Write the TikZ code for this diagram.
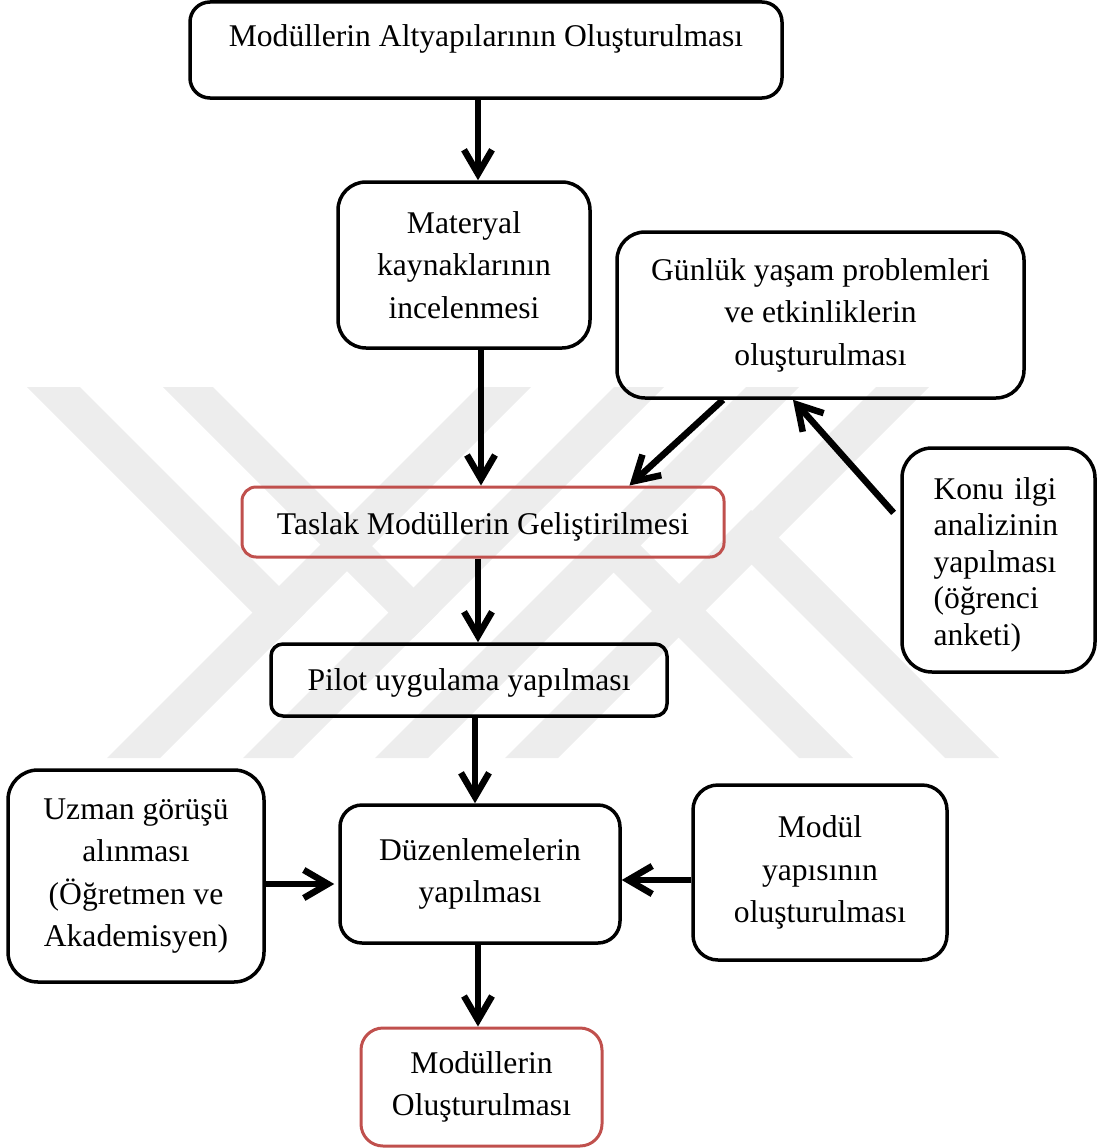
\documentclass[tikz,border=0pt]{standalone}
\usepackage{fontspec}
\setmainfont{Liberation Serif}
\usetikzlibrary{arrows.meta}
\definecolor{wm}{RGB}{237,237,237}
\definecolor{boxred}{RGB}{192,80,77}

\begin{document}
\begin{tikzpicture}[x=1pt,y=-1pt,
  box/.style={draw=black, line width=3.5pt, rounded corners=24pt, align=center,
    inner sep=0pt, font=\fontsize{31.6}{42.5}\selectfont},
  redbox/.style={box, draw=boxred, line width=3pt},
  % invisible strut in the first line, lowers the text block a little
  lower/.style={execute at begin node={\rule{0pt}{#1}}},
  flow/.style={line width=6.5pt, -{Straight Barb[length=24pt,width=28pt]}},
  ]
\useasboundingbox (0,0) rectangle (1098,1148);

% faint logo in the background
\fill[wm] (27,387) -- (80,387) -- (305.5,612.5) -- (279,639) -- cycle;
\fill[wm] (163,387) -- (213,387) -- (438.5,612.5) -- (413.5,637.5) -- cycle;
\fill[wm] (107,758) -- (160,758) -- (531,387) -- (478,387) -- cycle;
\fill[wm] (243,758) -- (293,758) -- (664,387) -- (614,387) -- cycle;
\fill[wm] (375,758) -- (428,758) -- (799,387) -- (746,387) -- cycle;
\fill[wm] (505,758) -- (558,758) -- (929,387) -- (876,387) -- cycle;
\fill[wm] (587,546) -- (614,519) -- (853,758) -- (799,758) -- cycle;
\fill[wm] (724,537) -- (751,510) -- (999,758) -- (945,758) -- cycle;

% process boxes
\node[box, rounded corners=20pt, minimum width=592pt, minimum height=96pt,
      text height=22pt, text depth=28pt] (top) at (486,50)
  {Modüllerin Altyapılarının Oluşturulması};
\node[box, lower=24pt, rounded corners=28pt, minimum width=252pt, minimum height=166pt] (mat) at (464,265)
  {Materyal\\kaynaklarının\\incelenmesi};
\node[box, lower=24pt, rounded corners=28pt, minimum width=407pt, minimum height=166pt] (gun) at (820.5,315)
  {Günlük yaşam problemleri\\ve etkinliklerin\\oluşturulması};
\node[redbox, lower=31.6pt, rounded corners=14pt, minimum width=482pt, minimum height=70pt] (taslak) at (483,522)
  {Taslak Modüllerin Geliştirilmesi};
\node[box, lower=31.6pt, rounded corners=30pt, minimum width=193pt, minimum height=224pt, align=left,
      text width=130pt, font=\fontsize{31.6}{36.5}\selectfont] (konu) at (998.5,560)
  {Konu ilgi\\analizinin\\yapılması\\(öğrenci\\anketi)};
\node[box, lower=27.6pt, rounded corners=12pt, minimum width=396pt, minimum height=72pt] (pilot) at (469,680)
  {Pilot uygulama yapılması};
\node[box, lower=25.6pt, rounded corners=30pt, minimum width=256pt, minimum height=212pt] (uzman) at (136,876)
  {Uzman görüşü\\alınması\\(Öğretmen ve\\Akademisyen)};
\node[box, lower=25.6pt, rounded corners=22pt, minimum width=280pt, minimum height=138pt] (duz) at (480,874)
  {Düzenlemelerin\\yapılması};
\node[box, lower=27.6pt, rounded corners=25pt, minimum width=254pt, minimum height=175pt] (modul) at (820,872.5)
  {Modül\\yapısının\\oluşturulması};
\node[redbox, lower=27.6pt, rounded corners=22pt, minimum width=241pt, minimum height=118pt] (final) at (481.5,1087)
  {Modüllerin\\Oluşturulması};

% connectors
\draw[flow] ([xshift=-8pt]top.south) -- ([xshift=-8pt]top.south |- mat.north);
\draw[flow] ([xshift=-2pt]taslak.north |- mat.south) -- ([xshift=-2pt]taslak.north);
\draw[flow] (gun.221) -- (taslak.14);
\draw[flow, shorten <=10pt] (konu.158) -- (gun.252);
\draw[flow] ([xshift=-5pt]taslak.south) -- ([xshift=-5pt]taslak.south |- pilot.north);
\draw[flow] ([xshift=6pt]pilot.south) -- ([xshift=6pt]pilot.south |- duz.north);
\draw[flow, shorten >=4pt] ([yshift=-8pt]uzman.east) -- ([yshift=-8pt]uzman.east -| duz.west);
\draw[flow] ([yshift=-7.5pt]modul.west) -- ([yshift=-7.5pt]modul.west -| duz.east);
\draw[flow] ([xshift=-2pt]duz.south) -- ([xshift=-2pt]duz.south |- final.north);
\end{tikzpicture}
\end{document}
